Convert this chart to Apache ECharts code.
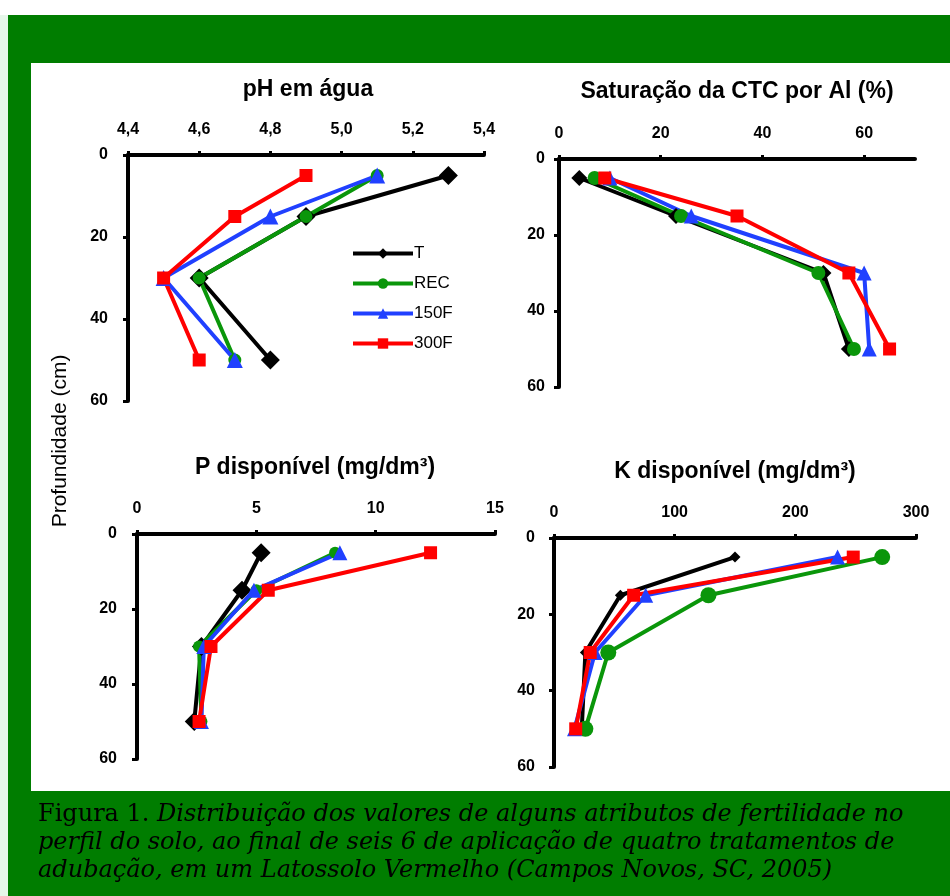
<!DOCTYPE html>
<html>
<head>
<meta charset="utf-8">
<script src="https://cdn.jsdelivr.net/npm/echarts@6/dist/echarts.min.js"></script>
<style>
html,body{margin:0;padding:0;background:#fff;}
#chart{width:950px;height:896px;}
</style>
</head>
<body>
<div id="chart"></div>
<script>
// ---- data ----
const depths = [5, 15, 30, 50];
const treatments = ['T', 'REC', '150F', '300F'];

// pH em água
const phT    = [5.3, 4.9, 4.6, 4.8];
const phREC  = [5.1, 4.9, 4.6, 4.7];
const ph150F = [5.1, 4.8, 4.5, 4.7];
const ph300F = [4.9, 4.7, 4.5, 4.6];

// Saturação da CTC por Al (%)
const alT    = [4, 23, 52, 57];
const alREC  = [7, 24, 51, 58];
const al150F = [10, 26, 60, 61];
const al300F = [9, 35, 57, 65];

// P disponível (mg/dm3)
const pT    = [5.2, 4.4, 2.7, 2.4];
const pREC  = [8.3, 5.0, 2.6, 2.7];
const p150F = [8.5, 4.9, 2.8, 2.7];
const p300F = [12.3, 5.5, 3.1, 2.6];

// K disponível (mg/dm3)
const kT    = [150, 55, 26, 23];
const kREC  = [272, 128, 45, 26];
const k150F = [235, 76, 34, 17];
const k300F = [248, 66, 30, 18];

const panelTitles = ['pH em água', 'Saturação da CTC por Al (%)', 'P disponível (mg/dm³)', 'K disponível (mg/dm³)'];
const depthTicks = [0, 20, 40, 60];
const yAxisTitle = 'Profundidade (cm)';
const captionLines = [
  ['Figura 1. ', 'Distribuição dos valores de alguns atributos de fertilidade no'],
  ['', 'perfil do solo, ao final de seis 6 de aplicação de quatro tratamentos de'],
  ['', 'adubação, em um Latossolo Vermelho (Campos Novos, SC, 2005)']
];

// ---- styles ----
const colors = { 'T': '#000000', 'REC': '#0a960a', '150F': '#2040ff', '300F': '#ff0000' };
const symbols = { 'T': 'diamond', 'REC': 'circle', '150F': 'triangle', '300F': 'rect' };
const panelData = [
  { 'T': phT, 'REC': phREC, '150F': ph150F, '300F': ph300F },
  { 'T': alT, 'REC': alREC, '150F': al150F, '300F': al300F },
  { 'T': pT, 'REC': pREC, '150F': p150F, '300F': p300F },
  { 'T': kT, 'REC': kREC, '150F': k150F, '300F': k300F }
];
const symbolSizes = [
  { 'T': 19, 'REC': 13, '150F': 16, '300F': 13 },
  { 'T': 16, 'REC': 14, '150F': 15, '300F': 13 },
  { 'T': 19, 'REC': 12, '150F': 15, '300F': 13 },
  { 'T': 11, 'REC': 16, '150F': 15, '300F': 13 }
];

const grids = [
  { left: 128, top: 155, width: 356, height: 246 },
  { left: 559, top: 159, width: 356, height: 228 },
  { left: 137, top: 534, width: 358, height: 225 },
  { left: 554, top: 538, width: 362, height: 229 }
];
const xRanges = [
  { min: 4.4, max: 5.4, interval: 0.2, fmt: v => v.toFixed(1).replace('.', ',') },
  { min: 0, max: 70, interval: 20, fmt: v => String(v) },
  { min: 0, max: 15, interval: 5, fmt: v => String(v) },
  { min: 0, max: 300, interval: 100, fmt: v => String(v) }
];
const yMargins = [20, 14, 20, 19];
const titlePos = [[308, 90], [737, 92], [315, 468], [735, 472]];

const labelFont = { fontFamily: 'Arial, "Liberation Sans", sans-serif', fontWeight: 'bold', fontSize: 16, color: '#000' };
const axisLineStyle = { color: '#000', width: 4 };

const xAxes = xRanges.map((r, i) => ({
  type: 'value', gridIndex: i, position: 'top',
  min: r.min, max: r.max, interval: r.interval,
  axisLine: { show: true, lineStyle: axisLineStyle },
  axisTick: { show: true, length: 4, lineStyle: { color: '#000', width: 3 } },
  axisLabel: Object.assign({ margin: 17, formatter: r.fmt, showMaxLabel: i !== 1 }, labelFont),
  splitLine: { show: false }
}));
const yAxes = grids.map((g, i) => ({
  type: 'value', gridIndex: i, inverse: true,
  min: 0, max: 60, interval: 20,
  axisLine: { show: true, onZero: false, lineStyle: axisLineStyle },
  axisTick: { show: true, length: 5, lineStyle: { color: '#000', width: 3 } },
  axisLabel: Object.assign({ margin: yMargins[i], formatter: v => depthTicks.includes(v) ? String(v) : '' }, labelFont),
  splitLine: { show: false }
}));

const series = [];
panelData.forEach((pd, i) => {
  treatments.forEach(t => {
    series.push({
      name: t, type: 'line', xAxisIndex: i, yAxisIndex: i,
      data: pd[t].map((v, k) => [v, depths[k]]),
      symbol: symbols[t], symbolSize: symbolSizes[i][t],
      lineStyle: { color: colors[t], width: 4 },
      itemStyle: { color: colors[t], borderWidth: 0 },
      emphasis: { disabled: true },
      animation: false
    });
  });
});

const graphic = [
  { type: 'rect', z: -10, silent: true, shape: { x: 0, y: 15, width: 8, height: 881 }, style: { fill: '#e6f7ea' } },
  { type: 'rect', z: -10, silent: true, shape: { x: 8, y: 15, width: 942, height: 881 }, style: { fill: '#007d00' } },
  { type: 'rect', z: -9, silent: true, shape: { x: 31, y: 63, width: 919, height: 728 }, style: { fill: '#ffffff' } },
  {
    type: 'text', x: 60, y: 441, rotation: Math.PI / 2, silent: true,
    style: { text: yAxisTitle, font: '21px Arial, "Liberation Sans", sans-serif', fill: '#000', align: 'center', verticalAlign: 'middle' }
  }
];
panelTitles.forEach((t, i) => {
  graphic.push({
    type: 'text', x: titlePos[i][0], y: titlePos[i][1], silent: true,
    style: { text: t, font: 'bold 23px Arial, "Liberation Sans", sans-serif', fill: '#000', align: 'center', verticalAlign: 'middle' }
  });
});
const capY = [815, 843, 871];
captionLines.forEach((ln, i) => {
  graphic.push({
    type: 'text', x: 38, y: capY[i], silent: true,
    style: {
      text: (ln[0] ? '{n|' + ln[0] + '}' : '') + '{i|' + ln[1] + '}',
      verticalAlign: 'middle', align: 'left',
      rich: {
        n: { fontFamily: '"DejaVu Serif", serif', fontSize: 24, color: '#fff' },
        i: { fontFamily: '"DejaVu Serif", serif', fontSize: 24, fontStyle: 'italic', color: '#fff' }
      }
    }
  });
});

const chart = echarts.init(document.getElementById('chart'), null, { renderer: 'canvas' });
chart.setOption({
  animation: false,
  backgroundColor: '#ffffff',
  grid: grids.map(g => Object.assign({ containLabel: false }, g)),
  xAxis: xAxes,
  yAxis: yAxes,
  legend: {
    data: treatments,
    orient: 'vertical', left: 346, top: 240,
    itemWidth: 60, itemHeight: 13, itemGap: 13,
    lineStyle: { width: 4 },
    textStyle: { fontFamily: 'Arial, "Liberation Sans", sans-serif', fontSize: 17, color: '#000', padding: [0, 0, 0, -4] },
    selectedMode: false
  },
  graphic: graphic,
  series: series
});
</script>
</body>
</html>
